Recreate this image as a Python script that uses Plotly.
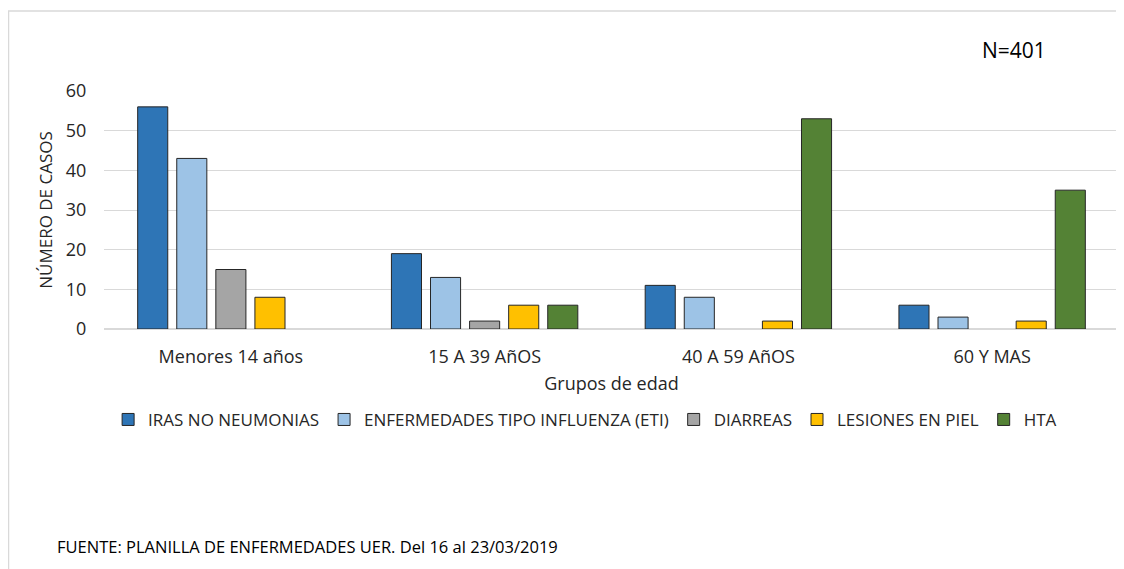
import plotly.graph_objects as go

grupos = ["Menores 14 años", "15 A 39 AñOS", "40 A 59 AñOS", "60 Y MAS"]
series = ["IRAS NO NEUMONIAS", "ENFERMEDADES TIPO INFLUENZA (ETI)", "DIARREAS",
          "LESIONES EN PIEL", "HTA"]
# sin casos -> sin barra (None)
iras = [56, 19, 11, 6]
eti = [43, 13, 8, 3]
diarreas = [15, 2, None, None]
lesiones = [8, 6, 2, 2]
hta = [None, 6, 53, 35]
colores = ["#2E75B6", "#9DC3E6", "#A5A5A5", "#FFC000", "#548235"]

fig = go.Figure()
for name, vals, col in zip(series, [iras, eti, diarreas, lesiones, hta], colores):
    fig.add_trace(go.Bar(
        x=grupos, y=vals, name=name,
        marker=dict(color=col, line=dict(color="#262626", width=1)),
    ))

font = "Open Sans, Liberation Sans, sans-serif"
fig.update_layout(
    width=1124, height=569,
    margin=dict(l=96, r=13, t=83, b=248),
    paper_bgcolor="white", plot_bgcolor="white",
    font=dict(family=font, size=17, color="#262626"),
    barmode="group", bargap=0.23, bargroupgap=0.23,
    showlegend=True,
    legend=dict(orientation="h", x=0.474, xanchor="center", y=-0.382, yanchor="middle",
                font=dict(size=17), traceorder="normal"),
)
fig.update_xaxes(
    showgrid=False, showline=False,
    ticks="outside", ticklen=11, tickcolor="white",
    tickfont=dict(size=18),
    title=dict(text="Grupos de edad", font=dict(size=18), standoff=10),
)
fig.update_yaxes(
    range=[0, 60], dtick=10, showgrid=True, gridcolor="#D9D9D9",
    zeroline=True, zerolinecolor="#D9D9D9", showline=False,
    tickfont=dict(size=18), ticks="outside", ticklen=13, tickcolor="white",
    title=dict(text="NÚMERO DE CASOS", font=dict(size=17), standoff=8),
)

# marco exterior
fig.add_shape(type="rect", xref="paper", yref="paper",
              x0=-0.0941, x1=1.009, y0=-1.1, y1=1.336,
              line=dict(color="#D9D9D9", width=1.5), fillcolor="rgba(0,0,0,0)",
              layer="below")

fig.add_annotation(text="N=401", xref="paper", yref="paper", x=0.863, y=1.172,
                   showarrow=False, xanchor="left", yanchor="middle",
                   font=dict(size=21, color="#000000"))
fig.add_annotation(text="FUENTE: PLANILLA DE ENFERMEDADES UER. Del 16 al 23/03/2019",
                   xref="paper", yref="paper", x=-0.0483, y=-0.912,
                   showarrow=False, xanchor="left", yanchor="middle",
                   font=dict(size=16.5, color="#000000"))

fig.write_html("out.html")
